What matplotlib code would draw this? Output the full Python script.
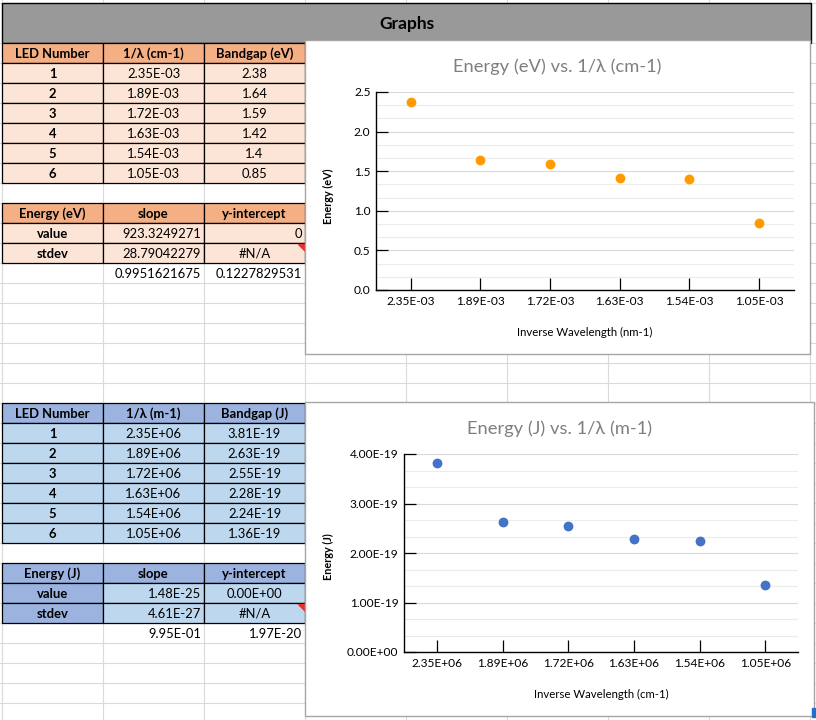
import numpy as np
import matplotlib
matplotlib.use('Agg')
import matplotlib.pyplot as plt
from matplotlib.patches import Rectangle, Polygon
from matplotlib.ticker import MultipleLocator

plt.rcParams['font.family'] = ['Lato', 'DejaVu Sans']

# values
led_number = [1, 2, 3, 4, 5, 6]
inv_wavelength_cm = [2.35e-03, 1.89e-03, 1.72e-03, 1.63e-03, 1.54e-03, 1.05e-03]
bandgap_ev = [2.38, 1.64, 1.59, 1.42, 1.4, 0.85]
inv_wavelength_m = [2.35e+06, 1.89e+06, 1.72e+06, 1.63e+06, 1.54e+06, 1.05e+06]
bandgap_j = [3.81e-19, 2.63e-19, 2.55e-19, 2.28e-19, 2.24e-19, 1.36e-19]

# LINEST output (slope column, intercept column: value, stdev, r2 / sey)
ev_slope = ['923.3249271', '28.79042279', '0.9951621675']
ev_intercept = ['0', '#N/A', '0.1227829531']
j_slope = ['1.48E-25', '4.61E-27', '9.95E-01']
j_intercept = ['0.00E+00', '#N/A', '1.97E-20']

W, H = 816, 720
fig = plt.figure(figsize=(W / 100, H / 100), dpi=100)
sheet = fig.add_axes([0, 0, 1, 1])
sheet.set_xlim(0, W)
sheet.set_ylim(H, 0)
sheet.axis('off')

# spreadsheet grid
col_x = [2, 103, 204, 305, 406, 507, 608, 709, 810]
row_y = [3] + list(range(43, H, 20))
for x in col_x:
    sheet.plot([x, x], [0, H], color='#dadada', lw=0.8, zorder=0)
for y in row_y:
    sheet.plot([0, W], [y, y], color='#dadada', lw=0.8, zorder=0)

FS = 9.4


def cell(c, y0, text, fill=None, ha='center', bold=False):
    x0, x1 = col_x[c], col_x[c + 1]
    if fill:
        sheet.add_patch(Rectangle((x0, y0), x1 - x0, 20, facecolor=fill,
                                  edgecolor='black', lw=0.9, zorder=2))
    tx = (x0 + x1) / 2 if ha == 'center' else x1 - 3
    sheet.text(tx, y0 + 10.5, text, ha=ha, va='center', fontsize=FS,
               fontweight='bold' if bold else 'normal', zorder=3)


def data_table(top, headers, xs, ys, yfmt, head_fill, body_fill):
    for j, h in enumerate(headers):
        cell(j, top, h, head_fill, bold=True)
    for i in range(len(led_number)):
        y0 = top + 20 * (i + 1)
        cell(0, y0, str(led_number[i]), body_fill, bold=True)
        cell(1, y0, '%.2E' % xs[i], body_fill)
        cell(2, y0, yfmt(ys[i]), body_fill)


def stats_table(top, name, slope, intercept, head_fill, body_fill, label_fill, int_ha):
    cell(0, top, name, head_fill, bold=True)
    cell(1, top, 'slope', head_fill, bold=True)
    cell(2, top, 'y-intercept', head_fill, bold=True)
    labels = ['value', 'stdev']
    for i in range(2):
        y0 = top + 20 * (i + 1)
        cell(0, y0, labels[i], label_fill, bold=True)
        cell(1, y0, slope[i], body_fill, ha='right')
        ha = 'center' if intercept[i] == '#N/A' else int_ha
        cell(2, y0, intercept[i], body_fill, ha=ha)
    # error flag on the #N/A cell
    y0 = top + 40
    sheet.add_patch(Polygon([[298, y0 + 1], [304.5, y0 + 1], [304.5, y0 + 7.5]],
                            closed=True, color='#e8312b', zorder=4))
    y0 = top + 60
    cell(1, y0, slope[2], ha='right')
    cell(2, y0, intercept[2], ha='right')


# header band
sheet.add_patch(Rectangle((2, 3), 809, 40, facecolor='#999999', edgecolor='black', lw=1, zorder=1))
sheet.text(407, 24, 'Graphs', ha='center', va='center', fontsize=12.5, fontweight='bold', zorder=3)

orange_head, orange_body = '#f4b084', '#fce4d6'
blue_head, blue_body = '#9bb3de', '#bdd7ee'

data_table(43, ['LED Number', '1/λ (cm-1)', 'Bandgap (eV)'], inv_wavelength_cm, bandgap_ev,
           lambda v: '%g' % v, orange_head, orange_body)
stats_table(203, 'Energy (eV)', ev_slope, ev_intercept, orange_head, orange_body, orange_body, 'right')

data_table(403, ['LED Number', '1/λ (m-1)', 'Bandgap (J)'], inv_wavelength_m, bandgap_j,
           lambda v: '%.2E' % v, blue_head, blue_body)
stats_table(563, 'Energy (J)', j_slope, j_intercept, blue_head, blue_body, blue_head, 'center')


def chart(box, plot, title, xs, ys, color, ymax, ystep, yfmt, ylabel, ylabel_y, xlabel):
    bx0, by0, bx1, by1 = box
    sheet.add_patch(Rectangle((bx0, by0), bx1 - bx0, by1 - by0, facecolor='white',
                              edgecolor='#a6a6a6', lw=1, zorder=5))
    px0, py0, px1, py1 = plot
    ax = fig.add_axes([px0 / W, 1 - py1 / H, (px1 - px0) / W, (py1 - py0) / H])
    ax.set_facecolor('none')
    pos = np.arange(len(xs))
    ax.scatter(pos, ys, s=50, color=color, zorder=3, clip_on=False, linewidths=0)
    ax.set_xlim(-0.5, len(xs) - 0.5)
    ax.set_ylim(0, ymax)
    ax.set_xticks(pos)
    ax.set_xticklabels(['%.2E' % v for v in xs])
    ax.yaxis.set_major_locator(MultipleLocator(ystep))
    ax.yaxis.set_minor_locator(MultipleLocator(ystep / 3))
    ax.yaxis.set_major_formatter(plt.FuncFormatter(lambda v, p: yfmt(v)))
    ax.grid(axis='y', which='major', color='#d9d9d9', lw=0.8, zorder=0)
    ax.grid(axis='y', which='minor', color='#ececec', lw=0.8, zorder=0)
    ax.set_axisbelow(True)
    for s in ['top', 'right']:
        ax.spines[s].set_visible(False)
    for s in ['left', 'bottom']:
        ax.spines[s].set_color('black')
        ax.spines[s].set_linewidth(1.0)
    ax.tick_params(axis='both', which='major', direction='in', length=8.5, width=0.9,
                   color='black', labelsize=8.6, labelcolor='black')
    ax.tick_params(axis='y', which='major', pad=4)
    ax.tick_params(axis='x', which='major', pad=4)
    ax.tick_params(which='minor', length=0)

    sheet.text((bx0 + bx1) / 2, by0 + 27, title, ha='center', va='center', fontsize=13.2,
               color='#7f7f7f', zorder=6)
    sheet.text(328, ylabel_y, ylabel, ha='center', va='center', rotation=90, fontsize=7.8,
               fontweight='bold', zorder=6)
    sheet.text((px0 + px1) / 2, py1 + 42, xlabel, ha='center', va='center', fontsize=8.2,
               color='black', zorder=6)
    return ax


chart((305, 40, 810, 354), (376, 92, 794, 290), 'Energy (eV) vs. 1/λ (cm-1)',
      inv_wavelength_cm, bandgap_ev, '#ff9a00', 2.5, 0.5, lambda v: '%.1f' % v,
      'Energy (eV)', 196, 'Inverse Wavelength (nm-1)')
chart((305, 402, 814, 716), (404, 454, 798, 652), 'Energy (J) vs. 1/λ (m-1)',
      inv_wavelength_m, bandgap_j, '#4472c4', 4e-19, 1e-19, lambda v: '%.2E' % v,
      'Energy (J)', 557, 'Inverse Wavelength (cm-1)')

# selection handle peeking out at the corner of the lower chart
sheet.add_patch(Rectangle((812, 708), 3, 9, color='#1f6fd1', zorder=6))

fig.savefig('out.png', dpi=100)
